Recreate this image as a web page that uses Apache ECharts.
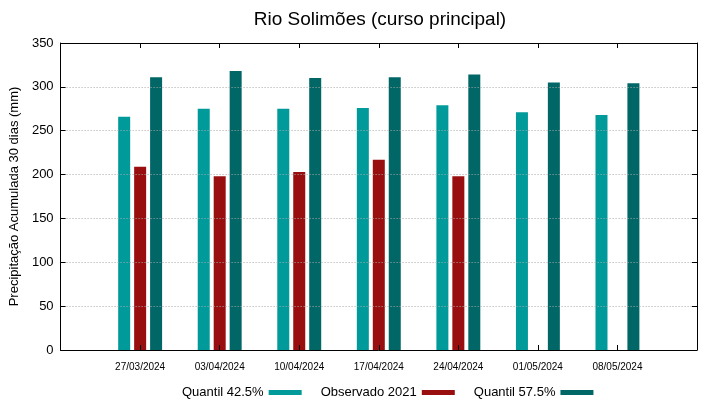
<!DOCTYPE html>
<html>
<head>
<meta charset="utf-8">
<script src="https://cdn.jsdelivr.net/npm/echarts@6/dist/echarts.min.js"></script>
<style>
  html, body { margin: 0; padding: 0; background: #fff; }
  #chart { width: 719px; height: 399px; }
</style>
</head>
<body>
<div id="chart"></div>
<script>
const dates = ['27/03/2024', '03/04/2024', '10/04/2024', '17/04/2024', '24/04/2024', '01/05/2024', '08/05/2024']
const quantil425 = [266, 275, 275, 276, 279, 271, 268]
const observado2021 = [209, 198, 203, 217, 198, null, null]
const quantil575 = [311, 318, 310, 311, 314, 305, 304]

// padding slot on each side so the groups sit on the ticks like the original
const cats = [''].concat(dates, [''])
const pad = arr => [null].concat(arr, [null])

const chart = echarts.init(document.getElementById('chart'), null, { renderer: 'canvas' });
const font = 'Liberation Sans'

const frameLine = () => ({ show: true, onZero: false, lineStyle: { color: '#000', width: 1 } })
// inward ticks: 'inside' did not draw, a negative outside length does the same job
const frameTick = () => ({ show: true, inside: false, interval: 0, length: -5, lineStyle: { color: '#000', width: 1 } })

const option = {
  backgroundColor: '#ffffff',
  animation: false,
  title: {
    text: 'Rio Solimões (curso principal)',
    left: 375,
    textAlign: 'center',
    top: 5,
    textStyle: { fontFamily: font, fontSize: 19, fontWeight: 'normal', color: '#000' }
  },
  legend: {
    left: 177,
    top: 381,
    align: 'right',
    icon: 'rect',
    itemWidth: 33,
    itemHeight: 5,
    itemGap: 19,
    textStyle: { fontFamily: font, fontSize: 13, color: '#000' },
    data: ['Quantil 42.5%', 'Observado 2021', 'Quantil 57.5%']
  },
  grid: { left: 58, right: 22, top: 43, bottom: 49, containLabel: false },
  xAxis: [{
    type: 'category',
    data: cats,
    boundaryGap: false,
    axisLine: frameLine(),
    axisTick: frameTick(),
    axisLabel: { fontFamily: font, fontSize: 10, color: '#000', margin: 12, interval: 0 },
    splitLine: { show: false },
    z: 5
  }, {
    type: 'category',
    position: 'top',
    data: cats,
    boundaryGap: false,
    axisLine: frameLine(),
    axisTick: frameTick(),
    axisLabel: { show: false },
    splitLine: { show: false },
    z: 5
  }],
  yAxis: [{
    type: 'value',
    min: 0,
    max: 350,
    interval: 50,
    name: 'Precipitação Acumulada 30 dias (mm)',
    nameLocation: 'middle',
    nameGap: 37,
    nameTextStyle: { fontFamily: font, fontSize: 13, color: '#000' },
    axisLine: frameLine(),
    axisTick: frameTick(),
    axisLabel: { fontFamily: font, fontSize: 13, color: '#000', margin: 7 },
    splitLine: { show: true, lineStyle: { color: '#aaa', type: [1, 2], width: 1 } },
    z: 5
  }, {
    type: 'value',
    position: 'right',
    min: 0,
    max: 350,
    interval: 50,
    axisLine: frameLine(),
    axisTick: frameTick(),
    axisLabel: { show: false },
    splitLine: { show: false },
    z: 5
  }],
  series: [{
    name: 'Quantil 42.5%',
    type: 'bar',
    data: pad(quantil425),
    barWidth: 12,
    barGap: '33%',
    itemStyle: { color: '#009a9a' }
  }, {
    name: 'Observado 2021',
    type: 'bar',
    data: pad(observado2021),
    barWidth: 12,
    barGap: '33%',
    itemStyle: { color: '#990f0f' }
  }, {
    name: 'Quantil 57.5%',
    type: 'bar',
    data: pad(quantil575),
    barWidth: 12,
    barGap: '33%',
    itemStyle: { color: '#006666' }
  }]
};

chart.setOption(option);
</script>
</body>
</html>
